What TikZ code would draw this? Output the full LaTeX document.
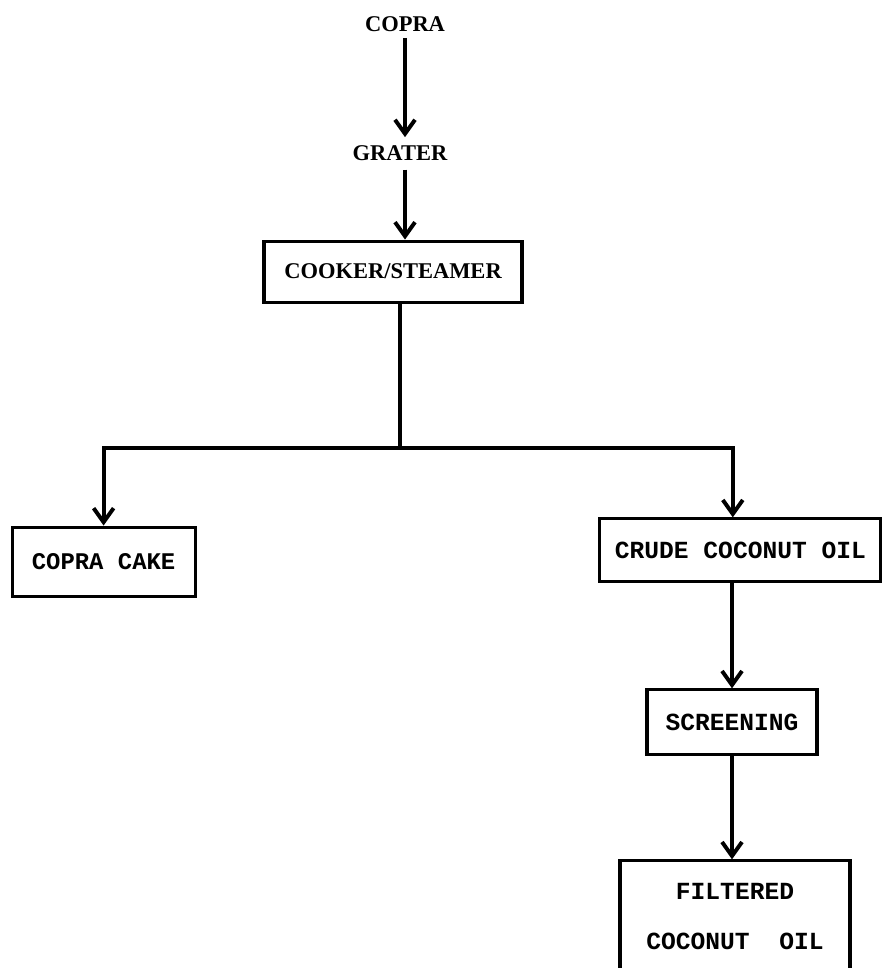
\documentclass[tikz,border=0pt]{standalone}
\usepackage{fontspec}
\setmainfont{Liberation Serif}
\newfontfamily\typefont{Liberation Mono}
\usetikzlibrary{calc}
\usetikzlibrary{positioning}
\usetikzlibrary{arrows.meta}

\tikzset{
  stage/.style={inner sep=0pt, font=\bfseries\fontsize{16}{18}\selectfont},
  unitbox/.style={draw, line width=2.2pt, inner sep=0pt, align=center},
  flow/.style={line width=2.8pt, -{Straight Barb[length=3.5mm,width=5mm,line width=2.8pt]}},
  pipe/.style={line width=2.8pt},
}

\begin{document}
\begin{tikzpicture}
      \useasboundingbox (0,0) rectangle (22.1,-24.2);
      \clip (0,0) rectangle (22.1,-24.2);
      % feed and grating
      \node[stage] (copra) at (10.125,-0.6) {COPRA};
      \node[stage] (grater) at (10.0,-3.825) {GRATER};
      \node[unitbox,stage,minimum width=6.45cm,minimum height=1.525cm] (cooker) at (9.825,-6.79) {COOKER/STEAMER};
      \draw[flow,shorten <=0.15cm,shorten >=0.2cm] (copra.south) -- (copra.south |- grater.north);
      \draw[flow,shorten <=0.22cm] (copra.south |- grater.south) -- (copra.south |- cooker.north);
      % split after cooking
      \coordinate (split) at (10.0,-11.2);
      \node[unitbox,minimum width=4.575cm,minimum height=1.725cm,font=\typefont\bfseries\fontsize{17}{20}\selectfont] (cake) at (2.59,-14.04) {COPRA CAKE};
      \node[unitbox,minimum width=7.025cm,minimum height=1.575cm,font=\typefont\bfseries\fontsize{17.5}{20}\selectfont] (crude) at (18.51,-13.76) {CRUDE COCONUT OIL};
      \draw[pipe] (cooker.south -| split) -- (split);
      \draw[flow] (split) -| (cake.north);
      \draw[flow] (split) -| ($(crude.north)+(-0.19,0)$);
      % cleaning of the oil
      \node[unitbox,minimum width=4.25cm,minimum height=1.625cm,font=\typefont\bfseries\fontsize{17.5}{20}\selectfont] (screening) at (18.3,-18.06) {SCREENING};
      \node[unitbox,minimum width=5.75cm,minimum height=2.775cm,font=\typefont\bfseries\fontsize{17.5}{20}\selectfont] (filtered) at (18.375,-22.91) {FILTERED\\[0.55cm]COCONUT\ \ OIL};
      \draw[flow] (screening.north |- crude.south) -- (screening.north);
      \draw[flow] (screening.south) -- (screening.south |- filtered.north);
\end{tikzpicture}
\end{document}
